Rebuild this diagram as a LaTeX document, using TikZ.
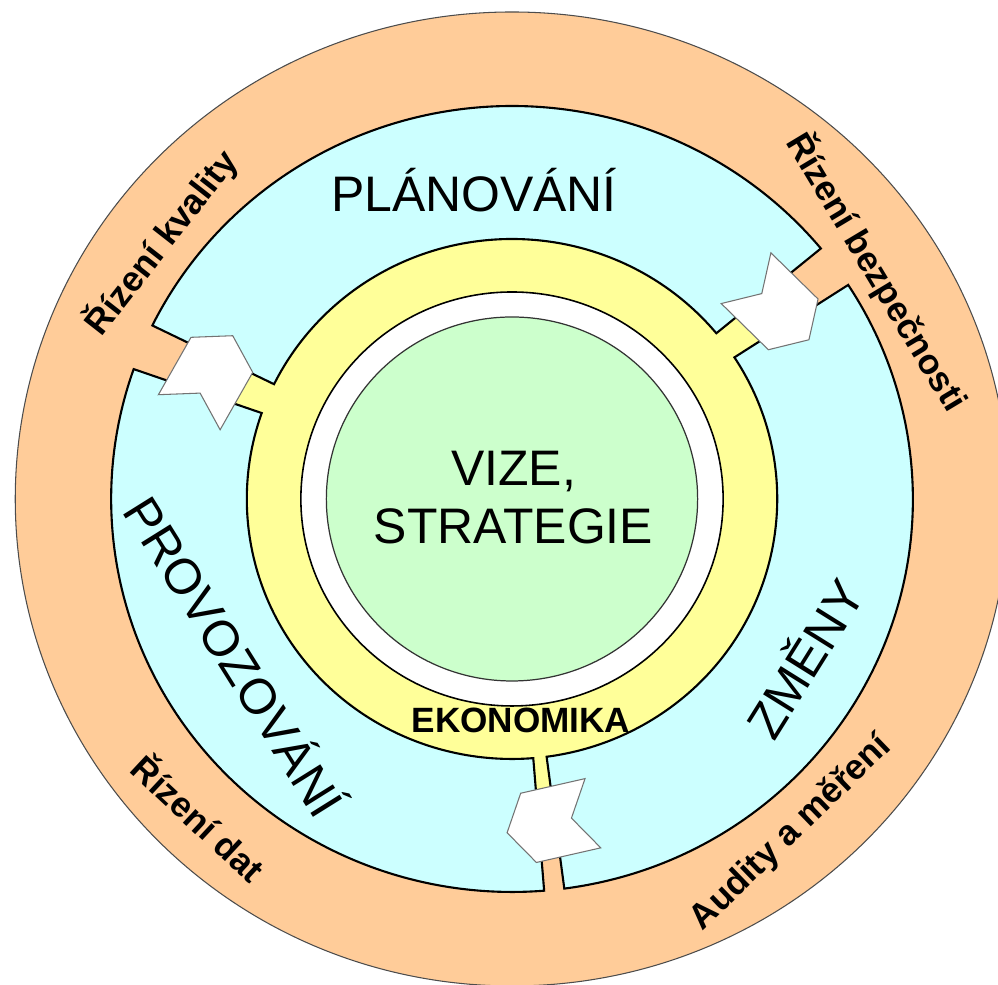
\documentclass[tikz,border=0pt]{standalone}
\usepackage{fontspec}
\setmainfont{Liberation Sans}
\definecolor{oranzova}{HTML}{FFCC99}
\definecolor{azurova}{HTML}{CCFFFF}
\definecolor{zluta}{HTML}{FFFF99}
\definecolor{zelena}{HTML}{CCFFCC}
\begin{document}
\begin{tikzpicture}[every node/.style={inner sep=0pt},
  velky/.style={font=\fontsize{14.2}{16.5}\selectfont},
  maly/.style={font=\fontsize{10}{12}\selectfont\bfseries},
  usek/.style={fill=azurova, draw=black, line width=0.6pt},
  pics/sipka/.style={code={
    \draw[fill=white, draw=black!55, line width=0.3pt] (-0.44,0.355) -- (0.22,0.355) -- (0.44,0)
      -- (0.22,-0.355) -- (-0.44,-0.355) -- (-0.22,0) -- cycle;}}]
  \useasboundingbox (0,0) rectangle (9.98,9.85);

  \begin{scope}[shift={(5.12,4.86)}, xscale=1.02]
    % vnejsi prstenec
    \draw[fill=oranzova, draw=black!70, line width=0.3pt] (0,0) circle (4.87);
    \fill[zluta] (0,0) circle (3.2);
    % tri useky
    \draw[usek] (39.6:3.93) arc[start angle=39.6, end angle=153.8, radius=3.93]
      -- (153.8:2.6) arc[start angle=153.8, end angle=39.6, radius=2.6] -- cycle;
    \draw[usek] (160.7:3.93) arc[start angle=160.7, end angle=274.6, radius=3.93]
      -- (274.6:2.6) arc[start angle=274.6, end angle=160.7, radius=2.6] -- cycle;
    \draw[usek] (277.5:3.93) arc[start angle=277.5, end angle=393, radius=3.93]
      -- (393:2.6) arc[start angle=393, end angle=277.5, radius=2.6] -- cycle;
    % stred
    \draw[fill=white, line width=0.45pt] (0,0) circle (2.07);
    \draw[fill=zelena, draw=black!80, line width=0.35pt] (0,0) circle (1.82);
  \end{scope}

  % sipky mezi useky
  \pic[rotate=60.4] at (2.11,6.11) {sipka};
  \pic[rotate=-44.4] at (7.775,6.76) {sipka};
  \pic[rotate=192.8] at (5.50,1.62) {sipka};

  % popisky useku
  \node[velky, anchor=base] (plan) at (4.74,7.73) {PLÁNOVÁNÍ};
  \node[velky, align=center] (vize) at (5.135,4.87) {VIZE,\\STRATEGIE};
  \node[velky, rotate=-58] (provoz) at (2.37,3.30) {PROVOZOVÁNÍ};
  \node[velky, rotate=58] (zmeny) at (8.02,3.28) {ZMĚNY};
  \node[maly, anchor=base] (ekon) at (5.21,2.52) {EKONOMIKA};

  % popisky vnejsiho prstence
  \node[maly, rotate=52] (kval) at (1.61,7.43) {Řízení kvality};
  \node[maly, rotate=-59] (bezp) at (8.77,7.13) {Řízení bezpečnosti};
  \node[maly, rotate=-43] (data) at (2.00,1.68) {Řízení dat};
  \node[maly, rotate=44] (audit) at (7.91,1.52) {Audity a měření};
\end{tikzpicture}
\end{document}
